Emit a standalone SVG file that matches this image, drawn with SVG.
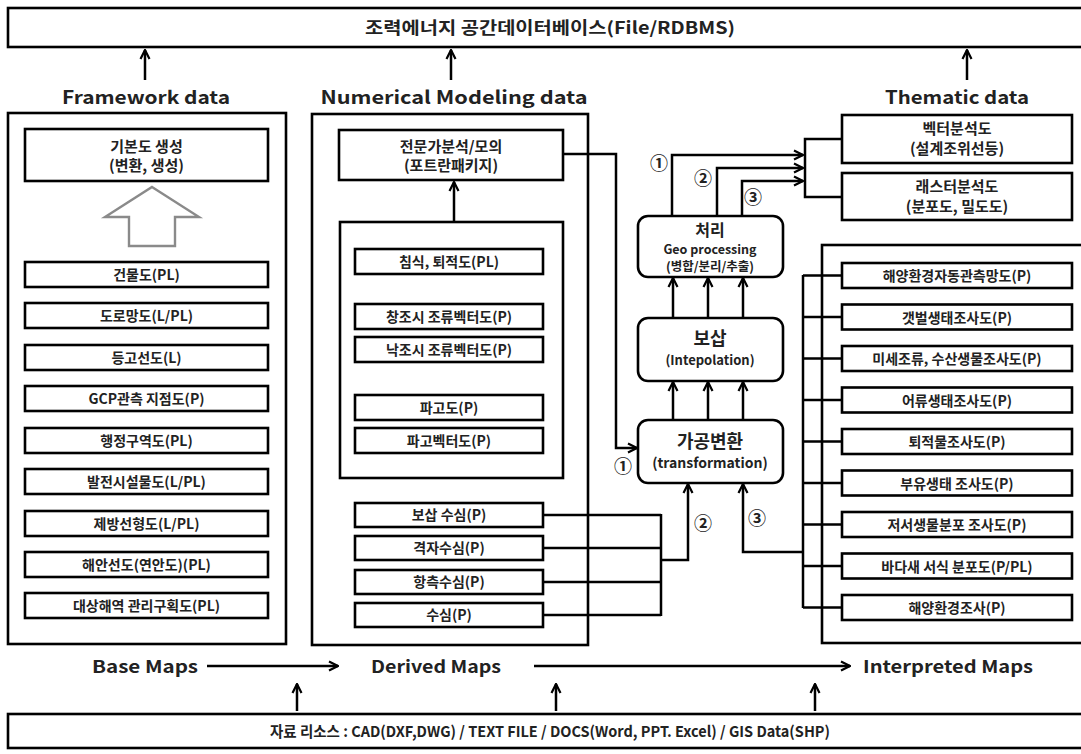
<svg xmlns="http://www.w3.org/2000/svg" width="1081" height="754" viewBox="0 0 1081 754">
<style>
.bx{fill:#fff;stroke:#000;stroke-width:2.6}
.rb{fill:#fff;stroke:#000;stroke-width:2.6}
.ln{fill:none;stroke:#000;stroke-width:2.5}
.t{font-family:"Noto Sans CJK KR","Noto Sans",sans-serif;font-weight:bold;fill:#222;text-anchor:middle}
.s13{font-size:13px}
.s14{font-size:14px}
.s18{font-size:18px}
.num{font-family:"Noto Sans CJK KR",sans-serif;font-size:18px;font-weight:bold;fill:#222;text-anchor:middle}
</style>
<defs>
<marker id="arr" viewBox="0 0 12 12" refX="11" refY="6" markerWidth="12" markerHeight="12" markerUnits="userSpaceOnUse" orient="auto">
<path d="M2,1.5 L11,6 L2,10.5" fill="none" stroke="#000" stroke-width="2.2"/>
</marker>
</defs>
<rect width="1081" height="754" fill="#fff"/>

<g id="db">
<rect class="bx" x="8" y="8" width="1090" height="39"/>
<text class="t" x="550" y="34" font-size="17" textLength="370" lengthAdjust="spacingAndGlyphs">조력에너지 공간데이터베이스(File/RDBMS)</text>
</g>

<g id="headers">
<text class="t s18" x="146" y="104" textLength="168" lengthAdjust="spacingAndGlyphs">Framework data</text>
<text class="t s18" x="454" y="104" textLength="267" lengthAdjust="spacingAndGlyphs">Numerical Modeling data</text>
<text class="t s18" x="957" y="104" textLength="144" lengthAdjust="spacingAndGlyphs">Thematic data</text>
</g>

<g id="framework">
<rect class="bx" x="8" y="113" width="278" height="531"/>
<g id="basemap-gen">
<rect class="bx" x="25" y="129" width="243" height="52"/>
<text class="t" x="146.5" y="152" font-size="15">기본도 생성</text>
<text class="t" x="146.5" y="171" font-size="15">(변환, 생성)</text>
</g>
<polygon points="152,187 199,217 175,217 175,246 129,246 129,217 105,217" fill="#fff" stroke="#8a8a8a" stroke-width="2.4"/>
<g id="fw1"><rect class="bx" x="25" y="262" width="243" height="25"/><text class="t s14" x="146.5" y="280">건물도(PL)</text></g>
<g id="fw2"><rect class="bx" x="25" y="303" width="243" height="25"/><text class="t s14" x="146.5" y="321">도로망도(L/PL)</text></g>
<g id="fw3"><rect class="bx" x="25" y="345" width="243" height="25"/><text class="t s14" x="146.5" y="363">등고선도(L)</text></g>
<g id="fw4"><rect class="bx" x="25" y="386" width="243" height="25"/><text class="t s14" x="146.5" y="404">GCP관측 지점도(P)</text></g>
<g id="fw5"><rect class="bx" x="25" y="428" width="243" height="25"/><text class="t s14" x="146.5" y="446">행정구역도(PL)</text></g>
<g id="fw6"><rect class="bx" x="25" y="469" width="243" height="25"/><text class="t s14" x="146.5" y="487">발전시설물도(L/PL)</text></g>
<g id="fw7"><rect class="bx" x="25" y="511" width="243" height="25"/><text class="t s14" x="146.5" y="529">제방선형도(L/PL)</text></g>
<g id="fw8"><rect class="bx" x="25" y="552" width="243" height="25"/><text class="t s14" x="146.5" y="570">해안선도(연안도)(PL)</text></g>
<g id="fw9"><rect class="bx" x="25" y="593" width="243" height="25"/><text class="t s14" x="146.5" y="611">대상해역 관리구획도(PL)</text></g>
</g>

<g id="numerical">
<rect class="bx" x="312" y="114" width="276" height="531"/>
<g id="expert">
<rect class="bx" x="339" y="130" width="224" height="50"/>
<text class="t" x="451" y="152" font-size="15">전문가분석/모의</text>
<text class="t" x="451" y="171" font-size="15">(포트란패키지)</text>
</g>
<rect class="bx" x="340" y="222" width="223" height="256"/>
<g id="nm1"><rect class="bx" x="355" y="249" width="188" height="25"/><text class="t s14" x="449" y="267">침식, 퇴적도(PL)</text></g>
<g id="nm2"><rect class="bx" x="355" y="304" width="188" height="25"/><text class="t s14" x="449" y="322">창조시 조류벡터도(P)</text></g>
<g id="nm3"><rect class="bx" x="355" y="337" width="188" height="25"/><text class="t s14" x="449" y="355">낙조시 조류벡터도(P)</text></g>
<g id="nm4"><rect class="bx" x="355" y="395" width="188" height="25"/><text class="t s14" x="449" y="413">파고도(P)</text></g>
<g id="nm5"><rect class="bx" x="355" y="428" width="188" height="25"/><text class="t s14" x="449" y="446">파고벡터도(P)</text></g>
<g id="nm6"><rect class="bx" x="355" y="503" width="188" height="24"/><text class="t s14" x="449" y="520">보삽 수심(P)</text></g>
<g id="nm7"><rect class="bx" x="355" y="536" width="188" height="24"/><text class="t s14" x="449" y="553">격자수심(P)</text></g>
<g id="nm8"><rect class="bx" x="355" y="570" width="188" height="24"/><text class="t s14" x="449" y="587">항측수심(P)</text></g>
<g id="nm9"><rect class="bx" x="355" y="603" width="188" height="24"/><text class="t s14" x="449" y="620">수심(P)</text></g>
</g>

<g id="proc">
<rect class="rb" x="638" y="216" width="145" height="61" rx="10"/>
<text class="t" x="710" y="236" font-size="16">처리</text>
<text class="t" x="710" y="254" font-size="12.5">Geo processing</text>
<text class="t" x="710" y="271" font-size="12.5">(병합/분리/추출)</text>
</g>
<g id="interp">
<rect class="rb" x="638" y="318" width="145" height="63" rx="10"/>
<text class="t s18" x="710" y="345">보삽</text>
<text class="t s13" x="710" y="365">(Intepolation)</text>
</g>
<g id="transform">
<rect class="rb" x="638" y="420" width="145" height="63" rx="10"/>
<text class="t s18" x="710" y="448">가공변환</text>
<text class="t s14" x="710" y="468">(transformation)</text>
</g>

<g id="thematic">
<g id="th1"><rect class="bx" x="842" y="115" width="230" height="48"/><text class="t" x="957" y="134" font-size="15">벡터분석도</text><text class="t" x="957" y="154" font-size="15">(설계조위선등)</text></g>
<g id="th2"><rect class="bx" x="842" y="173" width="230" height="47"/><text class="t" x="957" y="192" font-size="15">래스터분석도</text><text class="t" x="957" y="212" font-size="15">(분포도, 밀도도)</text></g>
</g>

<g id="survey">
<rect class="bx" x="822" y="245" width="280" height="398"/>
<g id="sv1"><rect class="bx" x="842" y="263" width="230" height="25"/><text class="t s14" x="957" y="281">해양환경자동관측망도(P)</text></g>
<g id="sv2"><rect class="bx" x="842" y="304.5" width="230" height="25"/><text class="t s14" x="957" y="322.5">갯벌생태조사도(P)</text></g>
<g id="sv3"><rect class="bx" x="842" y="346" width="230" height="25"/><text class="t s14" x="957" y="364">미세조류, 수산생물조사도(P)</text></g>
<g id="sv4"><rect class="bx" x="842" y="387.5" width="230" height="25"/><text class="t s14" x="957" y="405.5">어류생태조사도(P)</text></g>
<g id="sv5"><rect class="bx" x="842" y="429" width="230" height="25"/><text class="t s14" x="957" y="447">퇴적물조사도(P)</text></g>
<g id="sv6"><rect class="bx" x="842" y="470.5" width="230" height="25"/><text class="t s14" x="957" y="488.5">부유생태 조사도(P)</text></g>
<g id="sv7"><rect class="bx" x="842" y="512" width="230" height="25"/><text class="t s14" x="957" y="530">저서생물분포 조사도(P)</text></g>
<g id="sv8"><rect class="bx" x="842" y="553.5" width="230" height="25"/><text class="t s14" x="957" y="571.5">바다새 서식 분포도(P/PL)</text></g>
<g id="sv9"><rect class="bx" x="842" y="595" width="230" height="25"/><text class="t s14" x="957" y="613">해양환경조사(P)</text></g>
</g>

<g id="flow-labels">
<text class="t" x="145" y="673" font-size="17" textLength="106" lengthAdjust="spacingAndGlyphs">Base Maps</text>
<text class="t" x="436" y="673" font-size="17" textLength="130" lengthAdjust="spacingAndGlyphs">Derived Maps</text>
<text class="t" x="948" y="673" font-size="17" textLength="170" lengthAdjust="spacingAndGlyphs">Interpreted Maps</text>
</g>

<g id="resources">
<rect class="bx" x="8" y="714" width="1090" height="34"/>
<text class="t" x="550" y="737" font-size="15" textLength="560" lengthAdjust="spacingAndGlyphs">자료 리소스 : CAD(DXF,DWG) / TEXT FILE / DOCS(Word, PPT. Excel) / GIS Data(SHP)</text>
</g>

<g id="connectors">
<line class="ln" x1="145" y1="80" x2="145" y2="50" marker-end="url(#arr)"/>
<line class="ln" x1="451" y1="80" x2="451" y2="50" marker-end="url(#arr)"/>
<line class="ln" x1="967" y1="80" x2="967" y2="50" marker-end="url(#arr)"/>
<line class="ln" x1="454" y1="222" x2="454" y2="182" marker-end="url(#arr)"/>
<path class="ln" d="M563,154 H616 V448 H637" marker-end="url(#arr)"/>
<path class="ln" d="M543,515 H661 M543,548 H661 M543,582 H661 M543,615 H661 M661,514 V616"/>
<path class="ln" d="M661,560 H688 V484" marker-end="url(#arr)"/>
<path class="ln" d="M803,552 H743 V484" marker-end="url(#arr)"/>
<line class="ln" x1="673" y1="420" x2="673" y2="382" marker-end="url(#arr)"/>
<line class="ln" x1="708" y1="420" x2="708" y2="382" marker-end="url(#arr)"/>
<line class="ln" x1="743" y1="420" x2="743" y2="382" marker-end="url(#arr)"/>
<line class="ln" x1="673" y1="318" x2="673" y2="278" marker-end="url(#arr)"/>
<line class="ln" x1="708" y1="318" x2="708" y2="278" marker-end="url(#arr)"/>
<line class="ln" x1="743" y1="318" x2="743" y2="278" marker-end="url(#arr)"/>
<path class="ln" d="M672,216 V155 H803" marker-end="url(#arr)"/>
<path class="ln" d="M717,216 V168 H803" marker-end="url(#arr)"/>
<path class="ln" d="M742,216 V181 H803" marker-end="url(#arr)"/>
<path class="ln" d="M842,139 H805 V197 H842"/>
<path class="ln" d="M803,275 V608 M803,275.5 H842 M803,317 H842 M803,358.5 H842 M803,400 H842 M803,441.5 H842 M803,483 H842 M803,524.5 H842 M803,566 H842 M803,607.5 H842"/>
<line class="ln" x1="207" y1="666" x2="338" y2="666" marker-end="url(#arr)"/>
<line class="ln" x1="534" y1="666" x2="850" y2="666" marker-end="url(#arr)"/>
<line class="ln" x1="297" y1="711" x2="297" y2="684" marker-end="url(#arr)"/>
<line class="ln" x1="556" y1="711" x2="556" y2="684" marker-end="url(#arr)"/>
<line class="ln" x1="815" y1="711" x2="815" y2="684" marker-end="url(#arr)"/>
<text class="num" x="659" y="170">①</text>
<text class="num" x="703" y="185">②</text>
<text class="num" x="753" y="204">③</text>
<text class="num" x="623" y="473">①</text>
<text class="num" x="703" y="530">②</text>
<text class="num" x="757" y="525">③</text>
</g>
</svg>
